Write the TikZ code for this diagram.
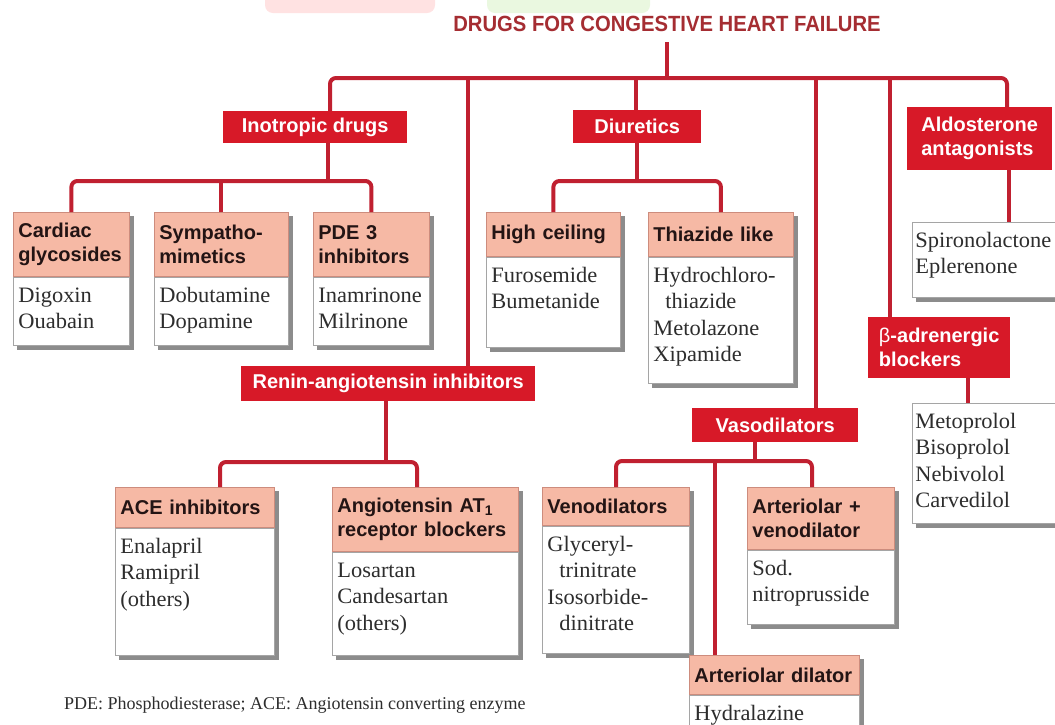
\documentclass[tikz,border=0pt]{standalone}
\usepackage{fontspec}
\setmainfont{Liberation Serif}
\setsansfont{Liberation Sans}
\newfontfamily\bodyf{Liberation Serif}[FakeStretch=1.02]
\newfontfamily\titlef{Liberation Sans}[FakeStretch=0.92]
\usetikzlibrary{backgrounds,calc}
\definecolor{conn}{RGB}{192,32,48}
\definecolor{redbox}{RGB}{215,25,40}
\definecolor{salmon}{RGB}{246,185,165}
\definecolor{salmonline}{RGB}{205,140,125}
\definecolor{boxline}{RGB}{165,165,165}
\definecolor{shadowc}{RGB}{140,140,140}
\definecolor{bodytext}{RGB}{45,45,45}
\definecolor{hdrtext}{RGB}{35,20,20}
\definecolor{titlec}{RGB}{165,45,50}
\definecolor{blobpink}{RGB}{255,226,226}
\definecolor{blobgreen}{RGB}{234,248,224}
\tikzset{
  connector/.style={draw=conn, line width=4pt},
  bus/.style={connector, rounded corners=6pt},
  catbox/.style={fill=redbox, text=white, font=\sffamily\bfseries\fontsize{20}{24}\selectfont, anchor=north west, inner sep=0pt, align=left},
  hdrbox/.style={fill=salmon, draw=salmonline, line width=0.8pt, text=hdrtext, font=\sffamily\bfseries\fontsize{20}{24.5}\selectfont, anchor=north west, inner xsep=5pt, inner ysep=0pt, align=left},
  bodybox/.style={fill=white, draw=boxline, line width=0.8pt, text=bodytext, anchor=north west, inner xsep=5pt, inner ysep=0pt},
  shadowfill/.style={fill=shadowc},
  blob/.style={rounded corners=8pt},
}
\newcommand{\bodytxt}{\bodyf\fontsize{22}{26.5}\selectfont\rule{0pt}{25pt}}
% #1 name, #2 x, #3 y, #4 width, #5 header h, #6 body h, #7 header, #8 body
\newcommand{\subbox}[8]{%
  \node[hdrbox, minimum width=#4pt, minimum height=#5pt, text width=#4pt-10pt] (#1h) at (#2,#3) {#7};
  \node[bodybox, minimum width=#4pt] (#1b) at (#1h.south west) {\parbox[t][#6pt][t]{\dimexpr#4pt-10pt\relax}{\bodytxt #8}};
  \begin{scope}[on background layer]
    \fill[shadowfill] ($(#1h.north west)+(4,4)$) rectangle ($(#1b.south east)+(4,4)$);
  \end{scope}
}
\begin{document}
\begin{tikzpicture}[x=1pt,y=-1pt]
\useasboundingbox (0,0) rectangle (1055,724);
\begin{scope}[on background layer]
  \fill[white] (0,0) rectangle (1055,724);
\end{scope}
% faint blobs at the top edge
\fill[blobpink, blob] (265,-10) rectangle (435,13);
\fill[blobgreen, blob] (487,-10) rectangle (650,13);

% title
\node[font=\titlef\bfseries\fontsize{22}{26}\selectfont, text=titlec, inner sep=0pt] (title) at (667,24) {DRUGS FOR CONGESTIVE HEART FAILURE};
\coordinate (tt) at (667,42);

% category boxes
\node[catbox, minimum width=184pt, minimum height=32pt] (ino) at (223,111) {Inotropic drugs};
\node[catbox, minimum width=128pt, minimum height=33pt] (diu) at (573,110) {Diuretics};
\node[catbox, minimum width=145pt, minimum height=63pt] (ald) at (907,107) {Aldosterone\\antagonists};
\node[catbox, minimum width=294pt, minimum height=35pt] (ras) at (241,366) {Renin-angiotensin inhibitors};
\node[catbox, minimum width=166pt, minimum height=34pt] (vas) at (692,408) {Vasodilators};
\node[catbox, minimum width=142pt, minimum height=61pt] (bb) at (868,317) {{\mdseries β}-adrenergic\\blockers};

% sub boxes
\subbox{cg}{13}{212}{116}{64}{68}{Cardiac\\glycosides}{Digoxin\\Ouabain}
\subbox{sm}{154}{212}{134}{64}{68}{Sympatho-\\mimetics}{Dobutamine\\Dopamine}
\subbox{pde}{313}{212}{116}{64}{68}{PDE 3\\inhibitors}{Inamrinone\\Milrinone}
\subbox{hc}{486}{212}{134}{44}{90}{High ceiling}{Furosemide\\Bumetanide}
\subbox{tz}{648}{212}{145}{44}{126}{Thiazide like}{Hydrochloro-\\\hspace*{12pt}thiazide\\Metolazone\\Xipamide}
\subbox{ace}{115}{487}{159}{40}{127}{ACE inhibitors}{Enalapril\\Ramipril\\(others)}
\subbox{at}{332}{487}{186}{64}{103}{Angiotensin AT\textsubscript{1}\\receptor blockers}{Losartan\\Candesartan\\(others)}
\subbox{ven}{542}{487}{147}{38}{127}{Venodilators}{Glyceryl-\\\hspace*{12pt}trinitrate\\Isosorbide-\\\hspace*{12pt}dinitrate}
\subbox{av}{747}{487}{147}{62}{74}{Arteriolar +\\venodilator}{Sod.\\nitroprusside}
\subbox{ad}{689}{655}{170}{39}{60}{Arteriolar dilator}{Hydralazine}

% plain lists
\node[bodybox, minimum width=143pt, inner xsep=3pt] (spi) at (912,222) {\parbox[t][75pt][t]{137pt}{\bodytxt Spironolactone\\Eplerenone}};
\node[bodybox, minimum width=143pt, inner xsep=3pt] (meto) at (912,403) {\parbox[t][120pt][t]{137pt}{\bodytxt Metoprolol\\Bisoprolol\\Nebivolol\\Carvedilol}};
\begin{scope}[on background layer]
  \fill[shadowfill] ($(spi.north west)+(4,4)$) rectangle ($(spi.south east)+(4,4)$);
  \fill[shadowfill] ($(meto.north west)+(4,4)$) rectangle ($(meto.south east)+(4,4)$);
\end{scope}

% footnote
\node[anchor=west, inner sep=0pt, text=bodytext, font=\rmfamily\fontsize{18}{22}\selectfont] (note) at (64,705) {PDE: Phosphodiesterase; ACE: Angiotensin converting enzyme};

% bus coordinates
\coordinate (b1) at (330,78);
\coordinate (b2) at (468,78);
\coordinate (b3) at (636,78);
\coordinate (b4) at (816,78);
\coordinate (b5) at (890,78);
\coordinate (b6) at (1007,78);
\coordinate (ib) at (328,181);
\coordinate (db) at (637,181);
\coordinate (ax) at (1009,0);
\coordinate (bx) at (968,0);
\coordinate (r0) at (386,462);
\coordinate (r1) at (220,462);
\coordinate (r2) at (417,462);
\coordinate (v0) at (755,461);
\coordinate (v1) at (616,461);
\coordinate (v2) at (812,461);
\coordinate (v3) at (715,461);

% main tree
\draw[connector] (tt) -- (tt |- b1);
\draw[bus] (b1 |- ino.north) -- (b1) -- (b6) -- (b6 |- ald.north);
\draw[connector] (b2) -- (b2 |- ras.north);
\draw[connector] (b3) -- (b3 |- diu.north);
\draw[connector] (b4) -- (b4 |- vas.north);
\draw[connector] (b5) -- (b5 |- bb.north);

% inotropic
\draw[connector] (ib |- ino.south) -- (ib);
\draw[bus] (cgh.north) |- (ib) -| (pdeh.north);
\draw[connector] (smh.north) -- (smh.north |- ib);

% diuretics
\draw[connector] (db |- diu.south) -- (db);
\draw[bus] (hch.north) |- (db) -| (tzh.north);

% aldosterone, beta blockers
\draw[connector] (ax |- ald.south) -- (ax |- spi.north);
\draw[connector] (bx |- bb.south) -- (bx |- meto.north);

% RAS
\draw[connector] (r0 |- ras.south) -- (r0);
\draw[bus] (r1 |- aceh.north) -- (r1) -- (r2) -- (r2 |- ath.north);

% vasodilators
\draw[connector] (v0 |- vas.south) -- (v0);
\draw[bus] (v1 |- venh.north) -- (v1) -- (v2) -- (v2 |- avh.north);
\draw[connector] (v3) -- (v3 |- adh.north);
\end{tikzpicture}
\end{document}
